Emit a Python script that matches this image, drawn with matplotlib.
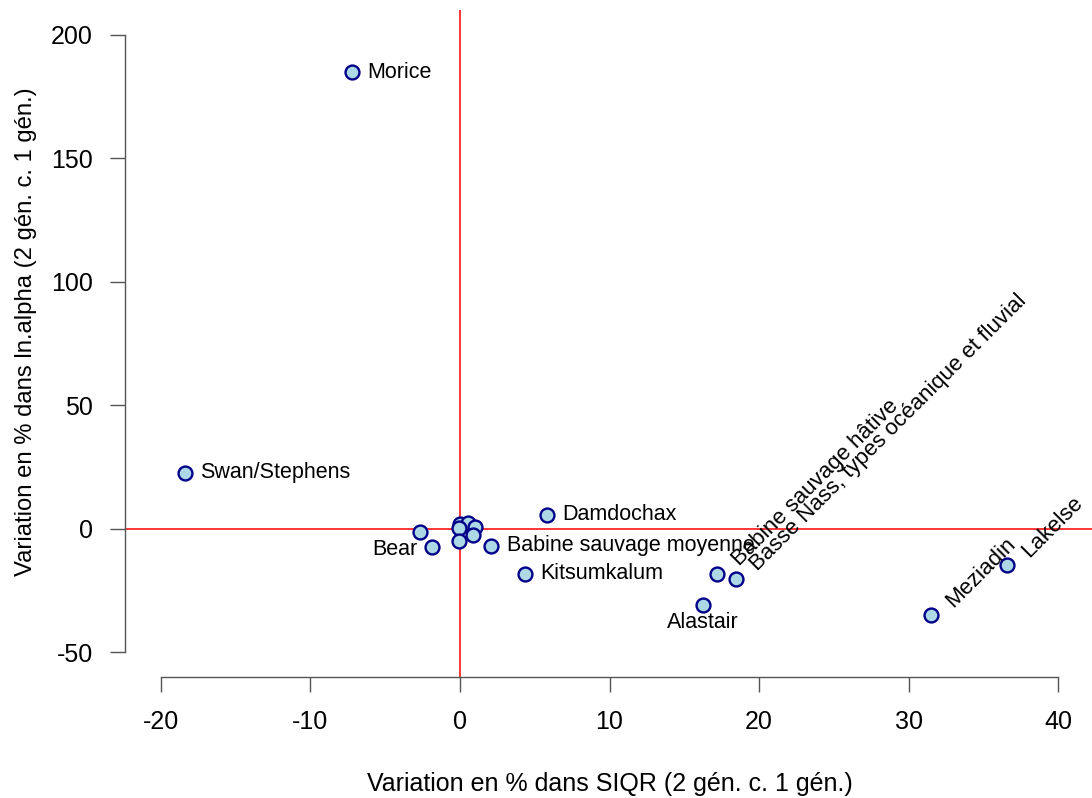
import matplotlib
matplotlib.use("Agg")
import matplotlib.pyplot as plt

plt.rcParams['font.family'] = ['Liberation Sans', 'DejaVu Sans']

# Data: % change in SIQR (x) and % change in ln.alpha (y)
names = ["Morice", "Swan/Stephens", "Damdochax", "Bear", "", "", "", "", "", "", "",
         "Babine sauvage moyenne", "Kitsumkalum", "Alastair",
         "Babine sauvage hâtive", "Basse Nass, types océanique et fluvial",
         "Meziadin", "Lakelse"]
x_siqr = [-7.2, -18.4, 5.8, -1.85, -2.7, 0.0, 0.55, 1.0, -0.05, 0.85, -0.05,
          2.1, 4.35, 16.25, 17.2, 18.45, 31.5, 36.6]
y_alpha = [184.9, 22.7, 5.7, -7.2, -1.5, 2.0, 2.2, 0.8, 0.3, -2.7, -4.8,
           -6.9, -18.2, -30.7, -18.2, -20.2, -34.8, -14.6]
# label placement: 'r' right, 'l' left, 'b' below, 'd' diagonal 45°
placement = ["r", "r", "r", "l", "", "", "", "", "", "", "",
             "r", "r", "b", "d", "d", "d", "d"]

x_ticks = [-20, -10, 0, 10, 20, 30, 40]
y_ticks = [-50, 0, 50, 100, 150, 200]
x_label = "Variation en % dans SIQR (2 gén. c. 1 gén.)"
y_label = "Variation en % dans ln.alpha (2 gén. c. 1 gén.)"

fig = plt.figure(figsize=(10.92, 7.98), dpi=100)
ax = fig.add_axes([125/1092, 121/798, (1094-125)/1092, (677-10)/798])
ax.set_xlim(-22.4, 42.4)
ax.set_ylim(-60, 210)

ax.axvline(0, color='red', lw=1.1, zorder=1)
ax.axhline(0, color='red', lw=1.1, zorder=1)

ax.scatter(x_siqr, y_alpha, s=100, facecolor='#ADD8E6', edgecolor='#00008B',
           linewidths=1.7, zorder=3)

fs = 15.5
for n, xv, yv, p in zip(names, x_siqr, y_alpha, placement):
    if not n:
        continue
    if p == "r":
        ax.annotate(n, (xv, yv), xytext=(11, 0), textcoords='offset points',
                    ha='left', va='center', fontsize=fs)
    elif p == "l":
        ax.annotate(n, (xv, yv), xytext=(-11, -2), textcoords='offset points',
                    ha='right', va='center', fontsize=fs)
    elif p == "b":
        ax.annotate(n, (xv, yv), xytext=(0, -5), textcoords='offset points',
                    ha='center', va='top', fontsize=fs)
    elif p == "d":
        ax.annotate(n, (xv, yv), xytext=(13, 8), textcoords='offset points',
                    ha='left', va='center', rotation=45, rotation_mode='anchor',
                    fontsize=16)

for s in ['top', 'right']:
    ax.spines[s].set_visible(False)
ax.spines['left'].set_bounds(-50, 200)
ax.spines['bottom'].set_bounds(-20, 40)
for s in ['left', 'bottom']:
    ax.spines[s].set_color('#555555')
    ax.spines[s].set_linewidth(1.0)

ax.set_xticks(x_ticks)
ax.set_yticks(y_ticks)
ax.set_xticklabels([str(t) for t in x_ticks])
ax.set_yticklabels([str(t) for t in y_ticks])
ax.tick_params(axis='both', length=11, width=1.0, color='#555555',
               labelsize=18, labelcolor='black')
ax.tick_params(axis='x', pad=13)
ax.tick_params(axis='y', pad=12)

ax.set_xlabel(x_label, fontsize=18, labelpad=27)
ax.set_ylabel(y_label, fontsize=17.2)
ax.yaxis.set_label_coords(-0.091, 0.518)

fig.savefig("out.png", dpi=100)
